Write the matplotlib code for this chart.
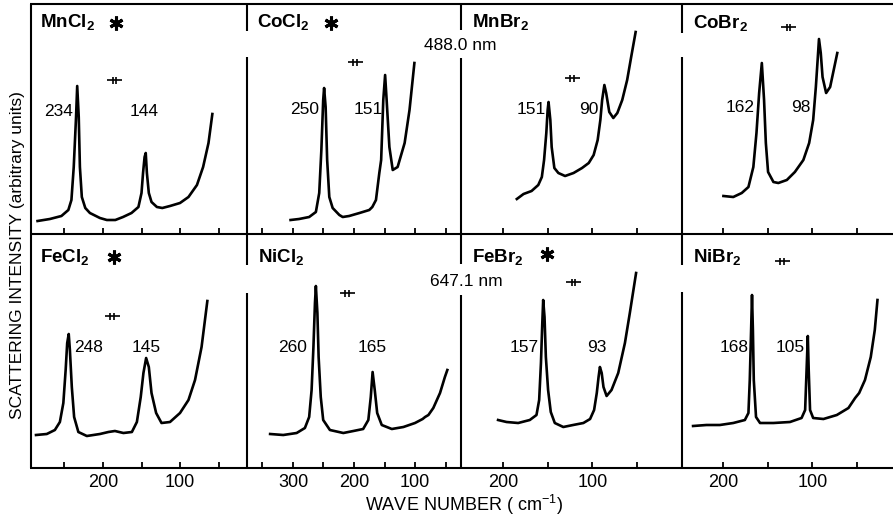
import matplotlib
matplotlib.use("Agg")
import matplotlib.pyplot as plt
from matplotlib.lines import Line2D

plt.rcParams["font.family"] = "Liberation Sans"
plt.rcParams["mathtext.fontset"] = "custom"
plt.rcParams["mathtext.rm"] = "Liberation Sans"
plt.rcParams["mathtext.bf"] = "Liberation Sans:bold"

# Raman spectra: wave number (cm-1) vs intensity (arb. units)
mncl2_wn = [285, 269, 254, 245, 241, 238, 235, 233.5, 231.5, 230, 227.5, 223, 217, 204, 195, 184, 174,
            163, 154, 150, 148, 146, 144.5, 143, 140.5, 137, 130, 123, 113, 100, 89, 78, 70, 63, 58]
mncl2_i = [13, 15, 18, 24, 34, 67, 117, 148, 117, 67, 37, 26, 21, 16, 14, 14, 17,
           21, 27, 41, 61, 77, 81, 61, 41, 32, 27, 26, 28, 31, 37, 49, 67, 91, 120]

cocl2_wn = [304, 290, 273.5, 262.5, 257, 253.5, 250.5, 249, 246.5, 244, 240.5, 235, 224, 218.5, 208, 191,
            175, 170, 164, 158.5, 155.5, 152, 149, 146.5, 142, 136.5, 128.5, 117, 109, 101]
cocl2_i = [14, 15, 17, 22, 41, 84, 134, 146, 127, 74, 37, 26, 19, 17, 18, 21,
           24, 27, 34, 61, 74, 134, 159, 134, 87, 64, 67, 91, 124, 171]

mnbr2_wn = [184.5, 177, 168, 160.5, 156.5, 154, 151.5, 150, 149, 147, 145.5, 142.5, 138, 130.5, 121,
            111.5, 104, 98.5, 94, 91, 89, 86.5, 84.5, 81, 76.5, 72, 66.5, 61, 56.5, 51.5]
mnbr2_i = [35, 40, 43, 49, 57, 74, 101, 124, 132, 114, 87, 66, 61, 58, 61,
           66, 71, 79, 94, 114, 134, 149, 141, 122, 116, 121, 134, 154, 177, 202]

cobr2_wn = [199.5, 188.5, 179, 171.5, 166, 162.5, 159.5, 156.5, 154, 152, 149.5, 143.5, 138, 128.5,
            119.5, 110, 103.5, 99, 96, 94, 92.5, 90.5, 88.5, 84.5, 80, 76, 72]
cobr2_i = [38, 37, 41, 47, 67, 101, 141, 171, 134, 91, 62, 52, 51, 54,
           62, 74, 91, 114, 147, 174, 195, 181, 157, 141, 147, 164, 181]

fecl2_wn = [287, 273, 262.5, 256, 251.5, 248.5, 246.5, 244.5, 243, 240.5, 237.5, 232, 221, 204, 193, 184.5,
            173.5, 162.5, 156, 151, 147.5, 144, 140.5, 137, 131, 124, 113, 100, 89, 80.5, 72, 64.5]
fecl2_i = [33, 34, 38, 46, 65, 98, 125, 134, 118, 81, 51, 36, 32, 34, 36, 37,
           35, 36, 46, 71, 95, 110, 101, 75, 55, 45, 46, 55, 68, 88, 121, 167]

nicl2_wn = [337.5, 316, 294, 280.5, 273.5, 269.5, 266.5, 264, 262.5, 260, 258, 254.5, 250.5, 239.5, 217.5,
            201, 185, 176.5, 172.5, 169.5, 166, 162, 154.5, 138, 119, 100, 87.5, 83.5, 78, 70, 59, 51, 47]
nicl2_i = [34, 33, 35, 40, 51, 78, 121, 165, 182, 155, 111, 71, 48, 38, 35,
           37, 39, 48, 71, 96, 78, 55, 43, 39, 41, 45, 49, 51, 53, 60, 75, 91, 98]

febr2_wn = [205.5, 196, 183, 170, 162.5, 159.5, 157.5, 156, 155, 153.5, 152, 149.5, 146.5, 142, 132.5,
            121.5, 110, 102.5, 98, 95, 93, 91.5, 89.5, 87.5, 84, 78.5, 71, 63.5, 58, 51]
febr2_i = [48, 46, 45, 48, 53, 68, 105, 145, 168, 151, 111, 78, 56, 45, 41,
           43, 45, 49, 58, 75, 91, 101, 95, 81, 72, 78, 95, 125, 155, 195]

nibr2_wn = [233.5, 218.5, 203.5, 188.5, 175.5, 171.5, 170, 168.5, 167.5, 166.5, 165.5, 163, 158.5, 143.5,
            125, 112, 108, 106.5, 105, 104, 102.5, 99, 87.5, 72.5, 59.5, 52, 47.5, 41, 34.5, 30, 27]
nibr2_i = [42, 43, 43, 45, 48, 55, 88, 138, 173, 138, 88, 51, 45, 45,
           46, 50, 58, 95, 132, 98, 58, 50, 49, 53, 60, 70, 75, 88, 111, 138, 168]

names = ["MnCl", "CoCl", "MnBr", "CoBr", "FeCl", "NiCl", "FeBr", "NiBr"]
starred = [True, True, False, False, True, False, True, False]
spectra = [(mncl2_wn, mncl2_i), (cocl2_wn, cocl2_i), (mnbr2_wn, mnbr2_i), (cobr2_wn, cobr2_i),
           (fecl2_wn, fecl2_i), (nicl2_wn, nicl2_i), (febr2_wn, febr2_i), (nibr2_wn, nibr2_i)]
peak_labels = [["234", "144"], ["250", "151"], ["151", "90"], ["162", "98"],
               ["248", "145"], ["260", "165"], ["157", "93"], ["168", "105"]]
laser_lines = ["488.0 nm", "647.1 nm"]

# per column axis ranges and ticks (each column has its own wave number scale)
col_xlim = [(293.5, 13), (375.4, 24.6), (247, -0.4), (245.9, 9.6)]
col_ticks = [[250, 200, 150, 100, 50], [350, 300, 250, 200, 150, 100, 50],
             [200, 150, 100, 50], [200, 150, 100, 50]]
row_ylim = [230, 234]

# layout in pixels
W, H = 893, 519
col_x = [31, 247, 461, 682, 893]
row_y = [4, 234, 468]
title_xy = [(40, 28), (257, 28), (472, 28), (693, 29), (40, 263), (258, 263), (472, 263), (693, 263)]
star_xy = [(116, 23), (331, 23), None, None, (114, 257), None, (547, 254), None]
label_xy = [[(58.5, 112), (144.5, 112)], [(305, 110), (368.5, 110)], [(531, 110), (589, 110)],
            [(740.5, 108), (801, 108)], [(89, 347), (146.5, 347)], [(293, 347), (372.5, 347)],
            [(524.5, 347), (597, 347)], [(734, 347), (790, 347)]]
res_xy = [(114.5, 80), (355, 62), (572, 78), (788.5, 27), (112, 316), (347, 293), (573.5, 282), (782, 261)]
divider_gaps = [[(31, 57), (30, 58), (33, 57)], [(265, 293), (264, 295), (265, 292)]]

fig = plt.figure(figsize=(W / 100, H / 100), dpi=100)


def fx(x):
    return x / W


def fy(y):
    return 1 - y / H


def fline(xs, ys, lw=1.5):
    fig.add_artist(Line2D([fx(v) for v in xs], [fy(v) for v in ys], color="black",
                          lw=lw, solid_capstyle="butt", transform=fig.transFigure))


for k in range(8):
    r, c = divmod(k, 4)
    x0, x1 = col_x[c], col_x[c + 1]
    y0, y1 = row_y[r], row_y[r + 1]
    ax = fig.add_axes([fx(x0), fy(y1), (x1 - x0) / W, (y1 - y0) / H])
    ax.patch.set_alpha(0)
    for s in ax.spines.values():
        s.set_visible(False)
    wn, inten = spectra[k]
    ax.plot(wn, inten, color="black", lw=1.9, solid_joinstyle="round")
    ax.set_xlim(*col_xlim[c])
    ax.set_ylim(0, row_ylim[r])
    ticks = col_ticks[c]
    ax.set_xticks(ticks, labels=[str(t) if t % 100 == 0 else "" for t in ticks])
    ax.set_yticks([])
    ax.tick_params(axis="x", direction="in", length=4, width=1.3, pad=4,
                   labelsize=13, labelbottom=(r == 1))

    tx, ty = title_xy[k]
    fig.text(fx(tx), fy(ty), names[k] + r"$_\mathbf{2}$", fontsize=13.5, fontweight="bold",
             ha="left", va="baseline")
    if starred[k]:
        sx, sy = star_xy[k]
        fig.add_artist(Line2D([fx(sx)], [fy(sy)], marker=(6, 2, 0), ms=10, mew=2.2,
                              color="black", transform=fig.transFigure))
    for txt, (lx, ly) in zip(peak_labels[k], label_xy[k]):
        fig.text(fx(lx), fy(ly), txt, fontsize=12.5, ha="center", va="center")

    # spectral resolution marker  -||-
    rx, ry = res_xy[k]
    fline([rx - 7.5, rx + 7.5], [ry, ry], lw=1.2)
    for dx in (-1.8, 1.8):
        fline([rx + dx, rx + dx], [ry - 3.5, ry + 3.5], lw=1.2)

# outer frame and dividers
fline([col_x[0] - 0.7, W], [row_y[0], row_y[0]])
fline([col_x[0] - 0.7, W], [row_y[1], row_y[1]])
fline([col_x[0] - 0.7, W], [row_y[2], row_y[2]])
fline([col_x[0], col_x[0]], [row_y[0], row_y[2]])
for r in range(2):
    for c in range(3):
        g0, g1 = divider_gaps[r][c]
        xd = col_x[c + 1]
        fline([xd, xd], [row_y[r], g0])
        fline([xd, xd], [g1, row_y[r + 1]])

fig.text(fx(460), fy(45), laser_lines[0], fontsize=12.5, ha="center", va="center")
fig.text(fx(466), fy(282), laser_lines[1], fontsize=12.5, ha="center", va="center")

fig.text(fx(464), fy(505), r"WAVE NUMBER ( cm$^{-1}$)", fontsize=13, ha="center", va="center")
fig.text(fx(18), fy(255), "SCATTERING INTENSITY (arbitrary units)", fontsize=12.5,
         rotation=90, ha="center", va="center")

fig.savefig("out.png", dpi=100)
